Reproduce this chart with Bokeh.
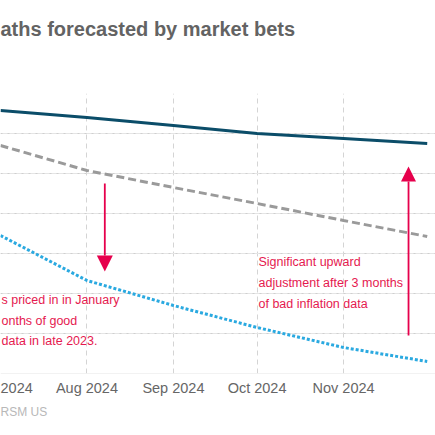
import datetime as dt
from bokeh.plotting import figure
from bokeh.models import (Range1d, FixedTicker, DatetimeTickFormatter, Label, Title,
                          Arrow, NormalHead, Grid, ColumnDataSource)
from bokeh.embed import file_html
from bokeh.resources import INLINE

# ---- data ----
months = ["2024-07-01", "2024-08-01", "2024-09-01", "2024-10-01", "2024-11-01", "2024-12-01"]
latest_pricing = [5.115, 5.08, 5.04, 5.00, 4.975, 4.95]
mid_pricing = [4.94, 4.815, 4.73, 4.65, 4.565, 4.485]
january_pricing = [4.49, 4.265, 4.14, 4.03, 3.93, 3.86]
tick_months = ["2024-07-01", "2024-08-01", "2024-09-01", "2024-10-01", "2024-11-01"]
first_tick_label = "2024"
y_ticks = [3.8, 4.0, 4.2, 4.4, 4.6, 4.8, 5.0, 5.2]

DAY = 86400000.0


def ms(s):
    return dt.datetime.fromisoformat(s).replace(tzinfo=dt.timezone.utc).timestamp() * 1000.0


xs = [dt.datetime.fromisoformat(m) for m in months]
src = ColumnDataSource(dict(x=xs, latest=latest_pricing, mid=mid_pricing, jan=january_pricing))

t0 = ms(months[0])
p = figure(x_axis_type="datetime", width=435, height=435,
           x_range=Range1d(t0, t0 + 155.97 * DAY),
           y_range=Range1d(3.8, 5.2),
           y_axis_location=None, min_border_left=0, min_border_right=0,
           min_border_top=93, min_border_bottom=62,
           outline_line_color=None, toolbar_location=None, output_backend="svg")
p.background_fill_color = "white"
p.border_fill_color = "white"

p.title.text = "aths forecasted by market bets"
p.title.align = "left"
p.title.offset = 0
p.title.standoff = 0
p.title.text_font = "Liberation Sans"
p.title.text_font_size = "20px"
p.title.text_font_style = "bold"
p.title.text_color = "#636363"

# spacer between title and plot area
spacer = Title(text=" ", text_font_size="1px", standoff=51)
p.add_layout(spacer, "above")

tick_ms = [ms(m) for m in tick_months]
p.xaxis.ticker = FixedTicker(ticks=tick_ms)
p.xaxis.formatter = DatetimeTickFormatter(years="%b %Y", months="%b %Y", days="%b %Y",
                                          hours="%b %Y", minutes="%b %Y")
p.xaxis.major_label_overrides = {tick_ms[0]: first_tick_label}
p.xaxis.axis_line_color = None
p.xaxis.major_tick_line_color = None
p.xaxis.minor_tick_line_color = None
p.xaxis.major_tick_out = 0
p.xaxis.major_label_standoff = 6
p.xaxis.major_label_text_color = "#666666"
p.xaxis.major_label_text_font = "Liberation Sans"
p.xaxis.major_label_text_font_size = "14.5px"

p.xgrid.ticker = FixedTicker(ticks=tick_ms)
p.xgrid.grid_line_color = "#d4d4d4"
p.xgrid.grid_line_dash = "5 4"
p.xgrid.grid_line_width = 1

ygrid = Grid(dimension=1, ticker=FixedTicker(ticks=y_ticks),
             grid_line_color="#cfcfcf", grid_line_dash="2 5", grid_line_width=1)
p.add_layout(ygrid)

source_title = Title(text="RSM US", align="left", offset=0, standoff=9,
                     text_font="Liberation Sans", text_font_size="12px",
                     text_font_style="normal", text_color="#b8b8b8")
p.add_layout(source_title, "below")

p.line("x", "latest", source=src, line_color="#0b4d69", line_width=3)
p.line("x", "mid", source=src, line_color="#9a9a9a", line_width=3, line_dash="8 4")
p.line("x", "jan", source=src, line_color="#2aa9e0", line_width=3, line_dash="3 2")

red = "#e6004c"
txt_red = "#e5194f"

# arrows
p.add_layout(Arrow(x_start=t0 + 37.4 * DAY, y_start=4.75, x_end=t0 + 37.4 * DAY, y_end=4.31,
                   line_color=red, line_width=1.8,
                   end=NormalHead(size=16, fill_color=red, line_color=red, line_width=0)))
p.add_layout(Arrow(x_start=t0 + 146.3 * DAY, y_start=3.99, x_end=t0 + 146.3 * DAY, y_end=4.835,
                   line_color=red, line_width=1.8,
                   end=NormalHead(size=15, fill_color=red, line_color=red, line_width=0)))


def lab(text, x, y, size, color, style="normal"):
    p.add_layout(Label(x=x, y=y, x_units="screen", y_units="screen", text=text,
                       text_font="Liberation Sans", text_font_size=size,
                       text_color=color, text_font_style=style,
                       text_baseline="middle", text_align="left"))


lab("s priced in in January", 1, 74, "12.5px", txt_red)
lab("onths of good", 1, 53, "12.5px", txt_red)
lab("data in late 2023.", 1, 33, "12.5px", txt_red)
lab("Significant upward", 258, 112, "12.5px", txt_red)
lab("adjustment after 3 months", 258, 91, "12.5px", txt_red)
lab("of bad inflation data", 258, 70, "12.5px", txt_red)

open("out.html", "w").write(file_html(p, INLINE))
